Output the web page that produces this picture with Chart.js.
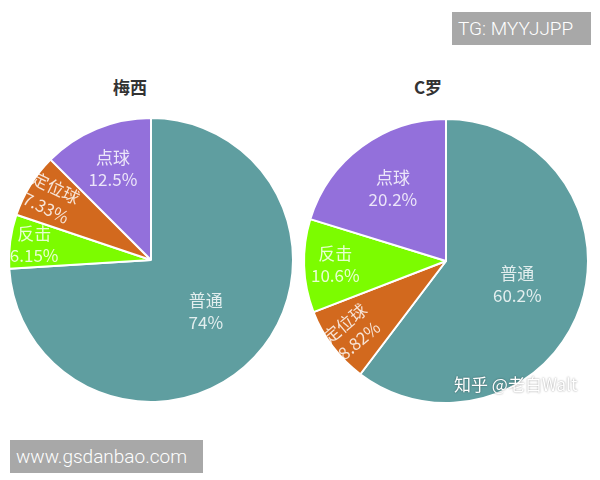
<!DOCTYPE html>
<html>
<head>
<meta charset="utf-8">
<script src="https://cdn.jsdelivr.net/npm/chart.js@4/dist/chart.umd.min.js"></script>
<style>
  body { margin: 0; background: #fff; width: 600px; height: 480px; position: relative; overflow: hidden; font-family: "Noto Sans CJK SC", sans-serif; }
  .box { position: absolute; }
  .title { position: absolute; top: 75px; width: 80px; text-align: center; font-size: 17px; font-weight: bold; color: #333; line-height: 24px; }
  .tag { position: absolute; background: #a8a8a8; color: #fff; font-family: Roboto, sans-serif; font-weight: 300; font-size: 19px; line-height: 33px; padding: 0 6px; }
  .zh { position: absolute; color: #fff; font-size: 17px; text-shadow: 0 0 2px rgba(0,0,0,0.45); font-family: "Noto Sans CJK SC", sans-serif; }
</style>
</head>
<body>
<div class="title" style="left:90px;">梅西</div>
<div class="title" style="left:388px;">C罗</div>
<div class="box" style="left:0px; top:117px; width:302px; height:286px;"><canvas id="messi"></canvas></div>
<div class="box" style="left:295px; top:118px; width:302px; height:286px;"><canvas id="ronaldo"></canvas></div>
<div class="tag" style="left:452px; top:12px; width:127px;">TG: MYYJJPP</div>
<div class="tag" style="left:10px; top:440px; width:181px;">www.gsdanbao.com</div>
<div class="zh" style="left:454px; top:371px;">知乎 @老白Walt</div>
<script>
  const messiLabels = ['普通', '反击', '定位球', '点球'];
  const messiValues = [74, 6.15, 7.33, 12.5];
  const messiText = ['74%', '6.15%', '7.33%', '12.5%'];

  const ronaldoLabels = ['普通', '定位球', '反击', '点球'];
  const ronaldoValues = [60.2, 8.82, 10.6, 20.2];
  const ronaldoText = ['60.2%', '8.82%', '10.6%', '20.2%'];

  const colorOf = {
    '普通': '#5f9ea0',
    '反击': '#7cfc00',
    '定位球': '#d2691e',
    '点球': '#9370db'
  };

  // the smaller the slice, the further out its label sits
  function labelDistance(value) {
    if (value < 10) return 0.83;
    if (value < 12) return 0.78;
    if (value < 15) return 0.7;
    if (value < 25) return 0.63;
    return 0.53;
  }

  const sliceLabels = {
    id: 'sliceLabels',
    afterDatasetsDraw(chart, args, opts) {
      const ctx = chart.ctx;
      const meta = chart.getDatasetMeta(0);
      meta.data.forEach((arc, i) => {
        const value = chart.data.datasets[0].data[i];
        const mid = (arc.startAngle + arc.endAngle) / 2;
        const r = arc.outerRadius * labelDistance(value);
        const x = arc.x + Math.cos(mid) * r;
        const y = arc.y + Math.sin(mid) * r;
        ctx.save();
        ctx.translate(x, y);
        ctx.rotate((opts.rotation[i] || 0) * Math.PI / 180);
        ctx.fillStyle = 'rgba(255,255,255,0.82)';
        ctx.textAlign = 'center';
        ctx.textBaseline = 'middle';
        ctx.font = '17px "Noto Sans CJK SC"';
        ctx.fillText(chart.data.labels[i], 0, -11);
        ctx.fillText(opts.text[i], 0, 11);
        ctx.restore();
      });
    }
  };

  function makePie(id, labels, values, text, rotation) {
    const ctx = document.getElementById(id).getContext('2d');
    return new Chart(ctx, {
      type: 'pie',
      data: {
        labels: labels,
        datasets: [{
          data: values,
          backgroundColor: labels.map(l => colorOf[l]),
          borderColor: '#fff',
          borderWidth: 2
        }]
      },
      options: {
        responsive: true,
        maintainAspectRatio: false,
        animation: false,
        layout: { padding: { left: 8, right: 8, top: 0, bottom: 0 } },
        plugins: {
          legend: { display: false },
          tooltip: { enabled: false },
          sliceLabels: { text: text, rotation: rotation }
        }
      },
      plugins: [sliceLabels]
    });
  }

  makePie('messi', messiLabels, messiValues, messiText, [0, 0, 26, 0]);
  makePie('ronaldo', ronaldoLabels, ronaldoValues, ronaldoText, [0, -40, 0, 0]);
</script>
</body>
</html>
